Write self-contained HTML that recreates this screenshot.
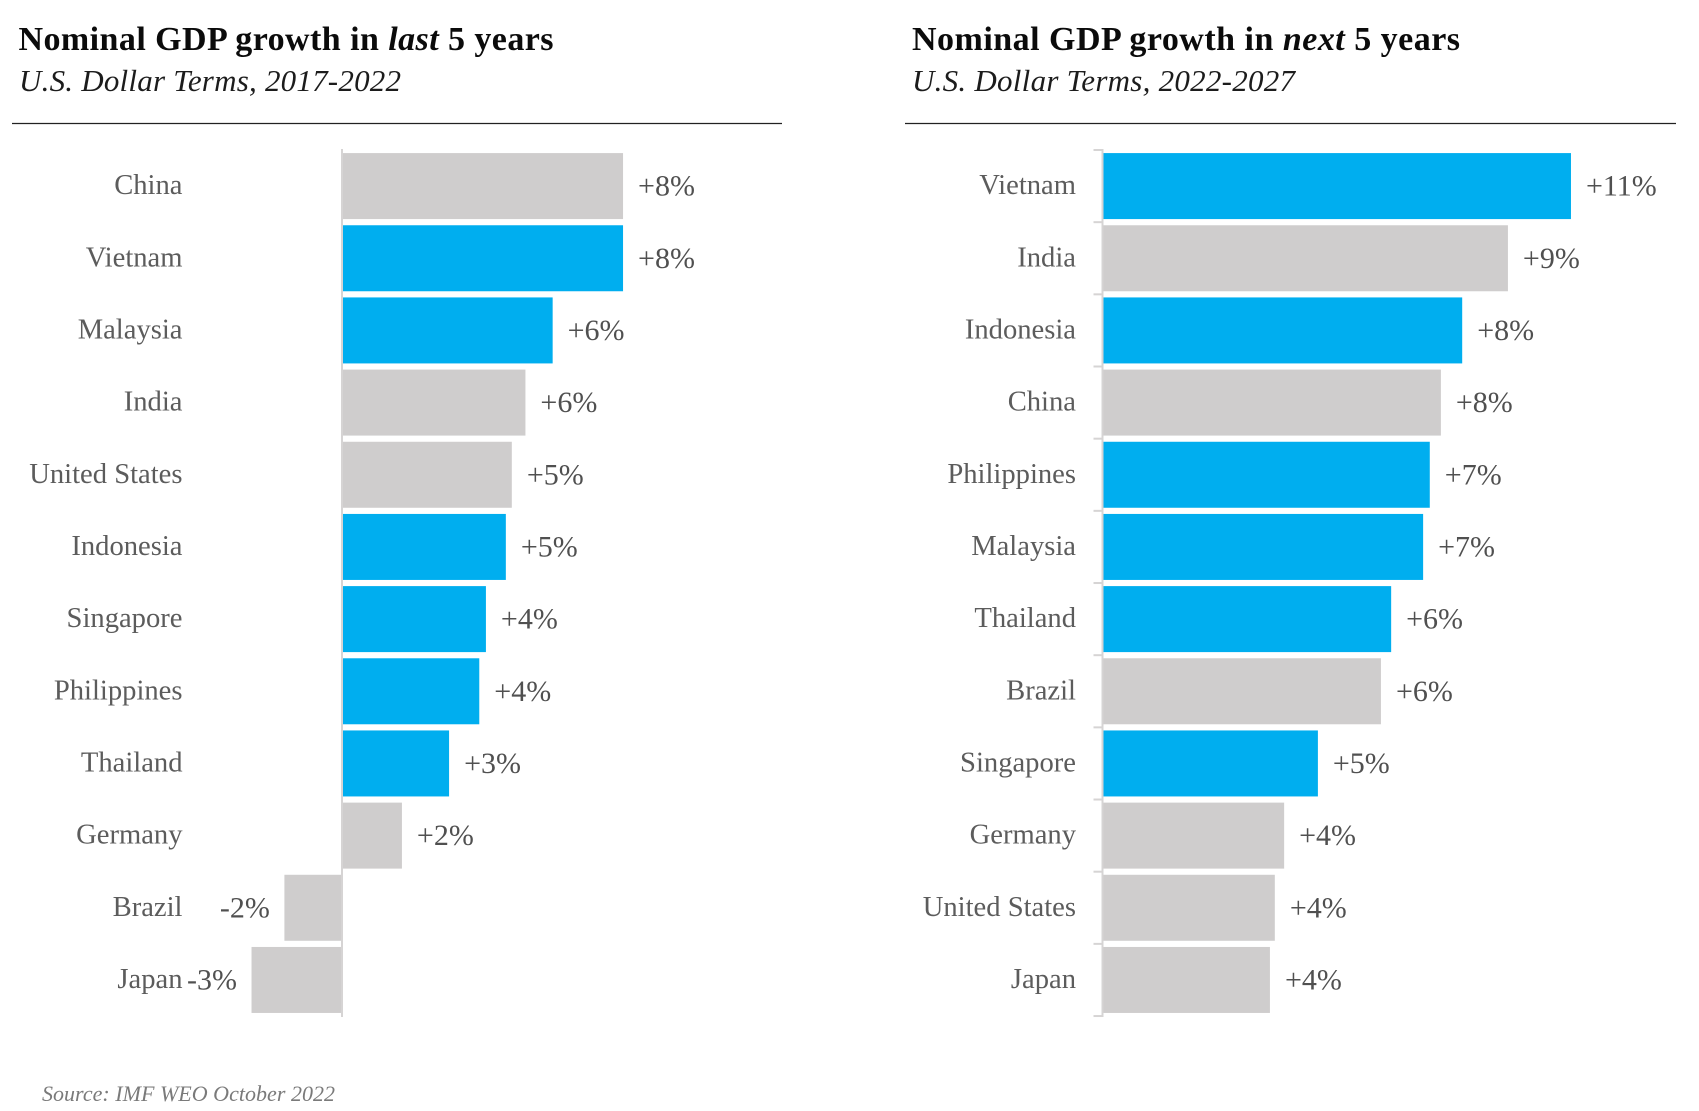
<!DOCTYPE html>
<html lang="en">
<head>
<meta charset="utf-8">
<title>Nominal GDP growth</title>
<style>
  html, body { margin: 0; padding: 0; background: #fff; width: 1699px; height: 1111px; overflow: hidden; }
  svg { display: block; }
  text { font-family: "Liberation Serif", serif; }
  .title { font-size: 34px; font-weight: bold; fill: #0b0b0b; }
  .subtitle { font-size: 31px; font-style: italic; fill: #1c1c1c; }
  .cat { font-size: 28.6px; fill: #5c5c5c; text-anchor: end; }
  .val { font-size: 30px; fill: #505050; }
  .source { font-size: 22px; font-style: italic; fill: #7a7a7a; }
</style>
</head>
<body>
<svg id="chart" width="1699" height="1111" viewBox="0 0 1699 1111" xmlns="http://www.w3.org/2000/svg">
  <text class="title" x="18.5" y="50" textLength="535" lengthAdjust="spacing">Nominal GDP growth in <tspan font-style="italic">last</tspan> 5 years</text>
  <text class="subtitle" x="19" y="91" textLength="382" lengthAdjust="spacing">U.S. Dollar Terms, 2017-2022</text>
  <line x1="12" x2="782" y1="123.5" y2="123.5" stroke="#222" stroke-width="1.2"/>
  <text class="title" x="912" y="50" textLength="548" lengthAdjust="spacing">Nominal GDP growth in <tspan font-style="italic">next</tspan> 5 years</text>
  <text class="subtitle" x="912" y="91" textLength="383" lengthAdjust="spacing">U.S. Dollar Terms, 2022-2027</text>
  <line x1="905" x2="1676" y1="123.5" y2="123.5" stroke="#222" stroke-width="1.2"/>
  <text class="source" x="42" y="1101" textLength="293" lengthAdjust="spacing">Source: IMF WEO October 2022</text>
  <g id="left-panel"></g>
  <g id="right-panel"></g>
</svg>
<script>
const leftCategories = ["China", "Vietnam", "Malaysia", "India", "United States", "Indonesia", "Singapore", "Philippines", "Thailand", "Germany", "Brazil", "Japan"];
const leftValues = [8.45, 8.45, 6.33, 5.51, 5.10, 4.92, 4.32, 4.12, 3.21, 1.79, -1.75, -2.74];
const leftHighlighted = ["Vietnam", "Malaysia", "Indonesia", "Singapore", "Philippines", "Thailand"];

const rightCategories = ["Vietnam", "India", "Indonesia", "China", "Philippines", "Malaysia", "Thailand", "Brazil", "Singapore", "Germany", "United States", "Japan"];
const rightValues = [10.54, 9.12, 8.09, 7.61, 7.36, 7.21, 6.49, 6.26, 4.84, 4.08, 3.87, 3.76];
const rightHighlighted = ["Vietnam", "Indonesia", "Philippines", "Malaysia", "Thailand", "Singapore"];

const SVG_NS = "http://www.w3.org/2000/svg";
const BLUE = "#00aeef";
const GREY = "#cfcdcd";
const AXIS = "#d6d4d4";
const AXIS_TOP = 150;
const BAND = 72.17;
const BAR_HEIGHT = 66;

function bandY(i) { return AXIS_TOP + BAND * i; }

function formatValue(v) {
  const r = Math.round(v);
  return (r >= 0 ? "+" : "-") + Math.abs(r) + "%";
}

function drawPanel(group, prefix, categories, values, highlighted, opts) {
  const xScale = function (v) { return opts.zero + v * opts.pxPerUnit; };
  categories.forEach(function (cat, i) {
    const v = values[i];
    const cy = bandY(i) + BAND / 2;
    const key = cat.toLowerCase().replace(/\s+/g, "-");

    const label = document.createElementNS(SVG_NS, "text");
    label.setAttribute("class", "cat");
    label.setAttribute("x", opts.labelX);
    label.setAttribute("y", cy + 8);
    label.textContent = cat;
    
    
    group.appendChild(label);

    const x1 = xScale(Math.min(0, v));
    const x2 = xScale(Math.max(0, v));
    const bar = document.createElementNS(SVG_NS, "rect");
    bar.setAttribute("x", x1);
    bar.setAttribute("y", cy - BAR_HEIGHT / 2);
    bar.setAttribute("width", x2 - x1);
    bar.setAttribute("height", BAR_HEIGHT);
    bar.setAttribute("fill", highlighted.indexOf(cat) >= 0 ? BLUE : GREY);
    
    
    group.appendChild(bar);

    const val = document.createElementNS(SVG_NS, "text");
    val.setAttribute("class", "val");
    val.setAttribute("x", v >= 0 ? x2 + 15 : x1 - 14.5);
    val.setAttribute("y", cy + 9.5);
    val.setAttribute("text-anchor", v >= 0 ? "start" : "end");
    val.textContent = formatValue(v);
    
    
    group.appendChild(val);
  });

  const axisX = opts.zero - 0.5;
  const axis = document.createElementNS(SVG_NS, "line");
  axis.setAttribute("x1", axisX);
  axis.setAttribute("x2", axisX);
  axis.setAttribute("y1", bandY(0) - 1);
  axis.setAttribute("y2", bandY(categories.length) + 1);
  axis.setAttribute("stroke", AXIS);
  axis.setAttribute("stroke-width", 2);
  
  
  group.appendChild(axis);

  if (opts.ticks) {
    for (let i = 0; i <= categories.length; i++) {
      const tick = document.createElementNS(SVG_NS, "line");
      tick.setAttribute("x1", axisX - 9);
      tick.setAttribute("x2", axisX);
      tick.setAttribute("y1", bandY(i));
      tick.setAttribute("y2", bandY(i));
      tick.setAttribute("stroke", AXIS);
      tick.setAttribute("stroke-width", 2);
      
      
      group.appendChild(tick);
    }
  }
}

drawPanel(document.getElementById("left-panel"), "left", leftCategories, leftValues, leftHighlighted,
  { zero: 342.5, pxPerUnit: 33.2, labelX: 182.5, ticks: false });
drawPanel(document.getElementById("right-panel"), "right", rightCategories, rightValues, rightHighlighted,
  { zero: 1103, pxPerUnit: 44.4, labelX: 1076, ticks: true });
</script>
</body>
</html>
